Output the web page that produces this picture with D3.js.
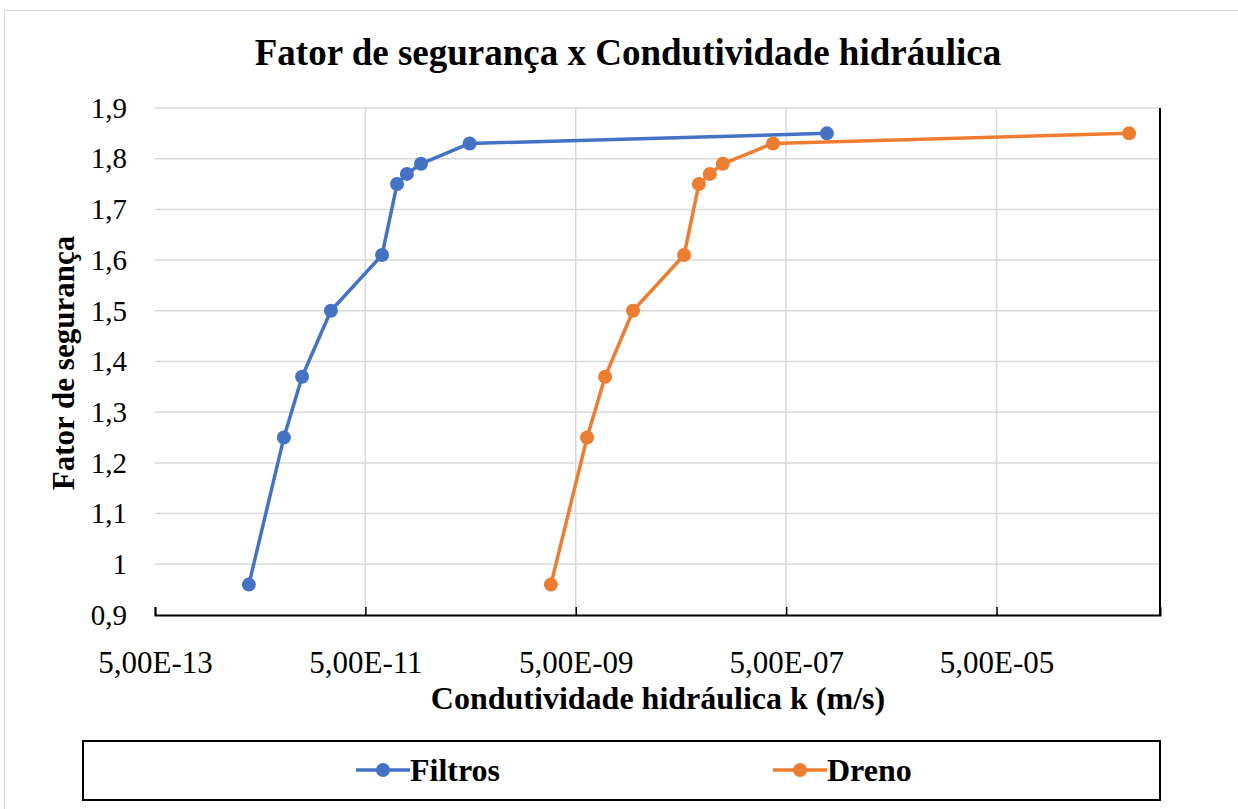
<!DOCTYPE html>
<html>
<head>
<meta charset="utf-8">
<script src="https://cdn.jsdelivr.net/npm/d3@7"></script>
<style>
  body { margin: 0; background: #fff; }
  svg { display: block; font-family: "Liberation Serif", "Times New Roman", serif; }
</style>
</head>
<body>
<svg width="1238" height="809"></svg>
<script>
// fator de seguranca (same for both series)
var fatores = [0.96, 1.25, 1.37, 1.5, 1.61, 1.75, 1.77, 1.79, 1.83, 1.85];
// condutividade hidraulica k (m/s)
var kFiltros = [3.9e-12, 8.4e-12, 1.25e-11, 2.35e-11, 7.2e-11, 1.0e-10, 1.24e-10, 1.69e-10, 4.9e-10, 1.22e-6];
var kDreno = [2.9e-9, 6.4e-9, 9.5e-9, 1.75e-8, 5.35e-8, 7.4e-8, 9.4e-8, 1.25e-7, 3.75e-7, 9.1e-4];
var xTicks = [5e-13, 5e-11, 5e-9, 5e-7, 5e-5];
var yTicks = [0.9, 1.0, 1.1, 1.2, 1.3, 1.4, 1.5, 1.6, 1.7, 1.8, 1.9];

var series = [
  { name: 'Filtros', k: kFiltros, color: '#4472C4' },
  { name: 'Dreno', k: kDreno, color: '#ED7D31' }
];

var svg = d3.select('svg');
var plotL = 155, plotR = 1160, plotT = 108, plotB = 615;

// chart frame
svg.append('rect')
  .attr('x', 4.5).attr('y', 10.5)
  .attr('width', 1240).attr('height', 810)
  .attr('fill', 'none').attr('stroke', '#d9d9d9');

var x = d3.scaleLog().domain([5e-13, 1.79e-3]).range([plotL, plotR]);
var y = d3.scaleLinear().domain([0.9, 1.9]).range([plotB, plotT]);

// gridlines
svg.append('g')
  .selectAll('line')
  .data(yTicks.slice(1))
  .enter()
  .append('line')
  .attr('x1', plotL).attr('x2', plotR)
  .attr('y1', (d) => y(d)).attr('y2', (d) => y(d))
  .attr('stroke', '#d9d9d9').attr('stroke-width', 1.5);

svg.append('g')
  .selectAll('line')
  .data(xTicks.slice(1))
  .enter()
  .append('line')
  .attr('x1', (d) => x(d)).attr('x2', (d) => x(d))
  .attr('y1', plotT).attr('y2', plotB)
  .attr('stroke', '#d9d9d9').attr('stroke-width', 1.5);

// x axis
var xAxis = svg.append('g')
  .attr('transform', 'translate(0,' + plotB + ')')
  .call(d3.axisBottom(x).tickValues(xTicks).tickSizeInner(-8).tickSizeOuter(-8)
    .tickFormat((d) => d.toExponential(2).replace('.', ',').replace(/e([+-])(\d)$/, 'e$10$2').replace('e', 'E')));
xAxis.select('.domain').attr('stroke', '#000').attr('stroke-width', 2);
xAxis.selectAll('.tick line').attr('stroke', '#000').attr('stroke-width', 1.5);
xAxis.selectAll('.tick text')
  .attr('y', 36)
  .style('font-family', '"Liberation Serif", serif')
  .style('font-size', '31px')
  .attr('fill', '#000');

// right edge line
svg.append('line')
  .attr('x1', plotR).attr('x2', plotR)
  .attr('y1', plotT).attr('y2', plotB)
  .attr('stroke', '#000').attr('stroke-width', 2);

// y axis labels
var yAxis = svg.append('g')
  .attr('transform', 'translate(' + plotL + ',0)')
  .call(d3.axisLeft(y).tickValues(yTicks).tickSize(0)
    .tickFormat((d) => (Math.round(d * 10) / 10).toString().replace('.', ',')));
yAxis.select('.domain').remove();
yAxis.selectAll('.tick text')
  .attr('x', -28)
  .style('font-family', '"Liberation Serif", serif')
  .style('font-size', '29px')
  .attr('fill', '#000');

// series
var line = d3.line()
  .x((d) => x(d[0]))
  .y((d) => y(d[1]));

series.forEach(function (s) {
  var pts = s.k.map((k, i) => [k, fatores[i]]);
  svg.append('path')
    .datum(pts)
    .attr('d', line)
    .attr('fill', 'none')
    .attr('stroke', s.color)
    .attr('stroke-width', 3.5)
    .attr('stroke-linejoin', 'round');
  svg.append('g')
    .selectAll('circle')
    .data(pts)
    .enter()
    .append('circle')
    .attr('cx', (d) => x(d[0]))
    .attr('cy', (d) => y(d[1]))
    .attr('r', 7)
    .attr('fill', s.color);
});

// titles
svg.append('text')
  .attr('x', 628).attr('y', 65)
  .attr('text-anchor', 'middle')
  .style('font-size', '37px').style('font-weight', 'bold')
  .text('Fator de segurança x Condutividade hidráulica');

svg.append('text')
  .attr('x', 658).attr('y', 709)
  .attr('text-anchor', 'middle')
  .style('font-size', '32px').style('font-weight', 'bold')
  .text('Condutividade hidráulica k (m/s)');

svg.append('text')
  .attr('transform', 'translate(74,363) rotate(-90)')
  .attr('text-anchor', 'middle')
  .style('font-size', '31px').style('font-weight', 'bold')
  .text('Fator de segurança');

// legend
svg.append('rect')
  .attr('x', 83).attr('y', 741)
  .attr('width', 1077).attr('height', 59)
  .attr('fill', 'none').attr('stroke', '#000').attr('stroke-width', 2);

var legend = svg.append('g')
  .selectAll('g')
  .data(series)
  .enter()
  .append('g')
  .attr('transform', (d, i) => 'translate(' + [356, 773][i] + ',770)');
legend.append('line')
  .attr('x1', 0).attr('x2', 54)
  .attr('stroke', (d) => d.color).attr('stroke-width', 3.5);
legend.append('circle')
  .attr('cx', 27).attr('r', 7)
  .attr('fill', (d) => d.color);
legend.append('text')
  .attr('x', 54).attr('y', 11)
  .style('font-size', '32px').style('font-weight', 'bold')
  .text((d) => d.name);
</script>
</body>
</html>
